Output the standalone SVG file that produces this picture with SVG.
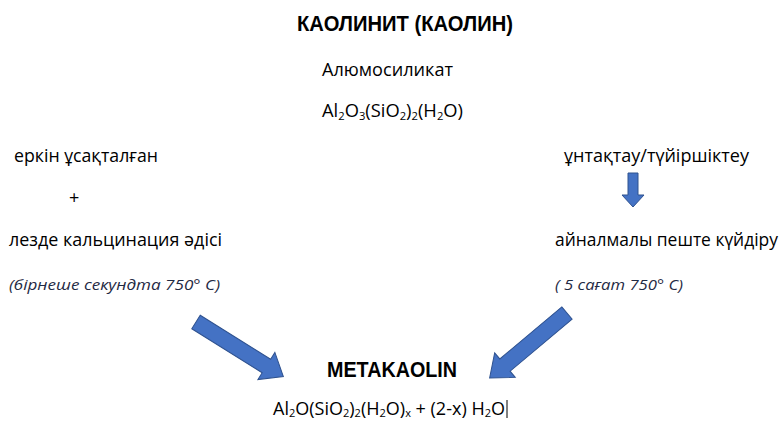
<svg xmlns="http://www.w3.org/2000/svg" width="784" height="421" viewBox="0 0 784 421">
<style>
.t{font-family:"Liberation Sans",Arial,sans-serif;font-weight:bold;font-size:22px;fill:#000}
.b{font-family:"Open Sans","Noto Sans",sans-serif;font-size:18px;fill:#000}
.i{font-family:"Open Sans","Noto Sans",sans-serif;font-size:14.5px;font-style:italic;fill:#1f2a44}
.s{font-size:11px}
.arr{fill:#4472C4;stroke:#2F528F;stroke-width:1}
</style>
<rect width="784" height="421" fill="#fff"/>
<g id="kaolinite">
<text class="t" x="297" y="31" textLength="216" lengthAdjust="spacingAndGlyphs">КАОЛИНИТ (КАОЛИН)</text>
<text class="b" x="322" y="76" textLength="131" lengthAdjust="spacingAndGlyphs">Алюмосиликат</text>
<text class="b" x="322" y="117" textLength="141" lengthAdjust="spacingAndGlyphs">Al<tspan class="s" dy="3">2</tspan><tspan dy="-3">O</tspan><tspan class="s" dy="3">3</tspan><tspan dy="-3">(SiO</tspan><tspan class="s" dy="3">2</tspan><tspan dy="-3">)</tspan><tspan class="s" dy="3">2</tspan><tspan dy="-3">(H</tspan><tspan class="s" dy="3">2</tspan><tspan dy="-3">O)</tspan></text>
</g>
<g id="flash">
<text class="b" x="14" y="162" textLength="144" lengthAdjust="spacingAndGlyphs">еркін ұсақталған</text>
<text class="b" x="69" y="204">+</text>
<text class="b" x="9" y="246" textLength="213" lengthAdjust="spacingAndGlyphs">лезде кальцинация әдісі</text>
<text class="i" x="9" y="290" textLength="211" lengthAdjust="spacingAndGlyphs">(бірнеше секундта 750° C)</text>
</g>
<g id="rotary">
<text class="b" x="564" y="162" textLength="185" lengthAdjust="spacingAndGlyphs">ұнтақтау/түйіршіктеу</text>
<text class="b" x="555" y="246" textLength="223" lengthAdjust="spacingAndGlyphs">айналмалы пеште күйдіру</text>
<text class="i" x="555" y="290" textLength="128" lengthAdjust="spacingAndGlyphs">( 5 сағат 750° C)</text>
</g>
<g id="metakaolin">
<text class="t" x="327" y="377" textLength="130" lengthAdjust="spacingAndGlyphs">METAKAOLIN</text>
<text class="b" x="273" y="415" textLength="232" lengthAdjust="spacingAndGlyphs">Al<tspan class="s" dy="2">2</tspan><tspan dy="-2">O(SiO</tspan><tspan class="s" dy="2">2</tspan><tspan dy="-2">)</tspan><tspan class="s" dy="2">2</tspan><tspan dy="-2">(H</tspan><tspan class="s" dy="2">2</tspan><tspan dy="-2">O)</tspan><tspan class="s" dy="2">x</tspan><tspan dy="-2"> + (2-x) H</tspan><tspan class="s" dy="2">2</tspan><tspan dy="-2">O</tspan></text>
<line x1="507" y1="400" x2="507" y2="418" stroke="#000" stroke-width="1"/>
</g>
<g id="connectors">
<path class="arr" transform="translate(196,322) rotate(32)" d="M0,-8 H83 V-16 L103,0 L83,16 V8 H0 Z"/>
<path class="arr" transform="translate(567,313) rotate(140)" d="M0,-8 H81 V-16 L101,0 L81,16 V8 H0 Z"/>
<path class="arr" transform="translate(633,173) rotate(90)" d="M0,-5 H22 V-11 L34,0 L22,11 V5 H0 Z"/>
</g>
</svg>
